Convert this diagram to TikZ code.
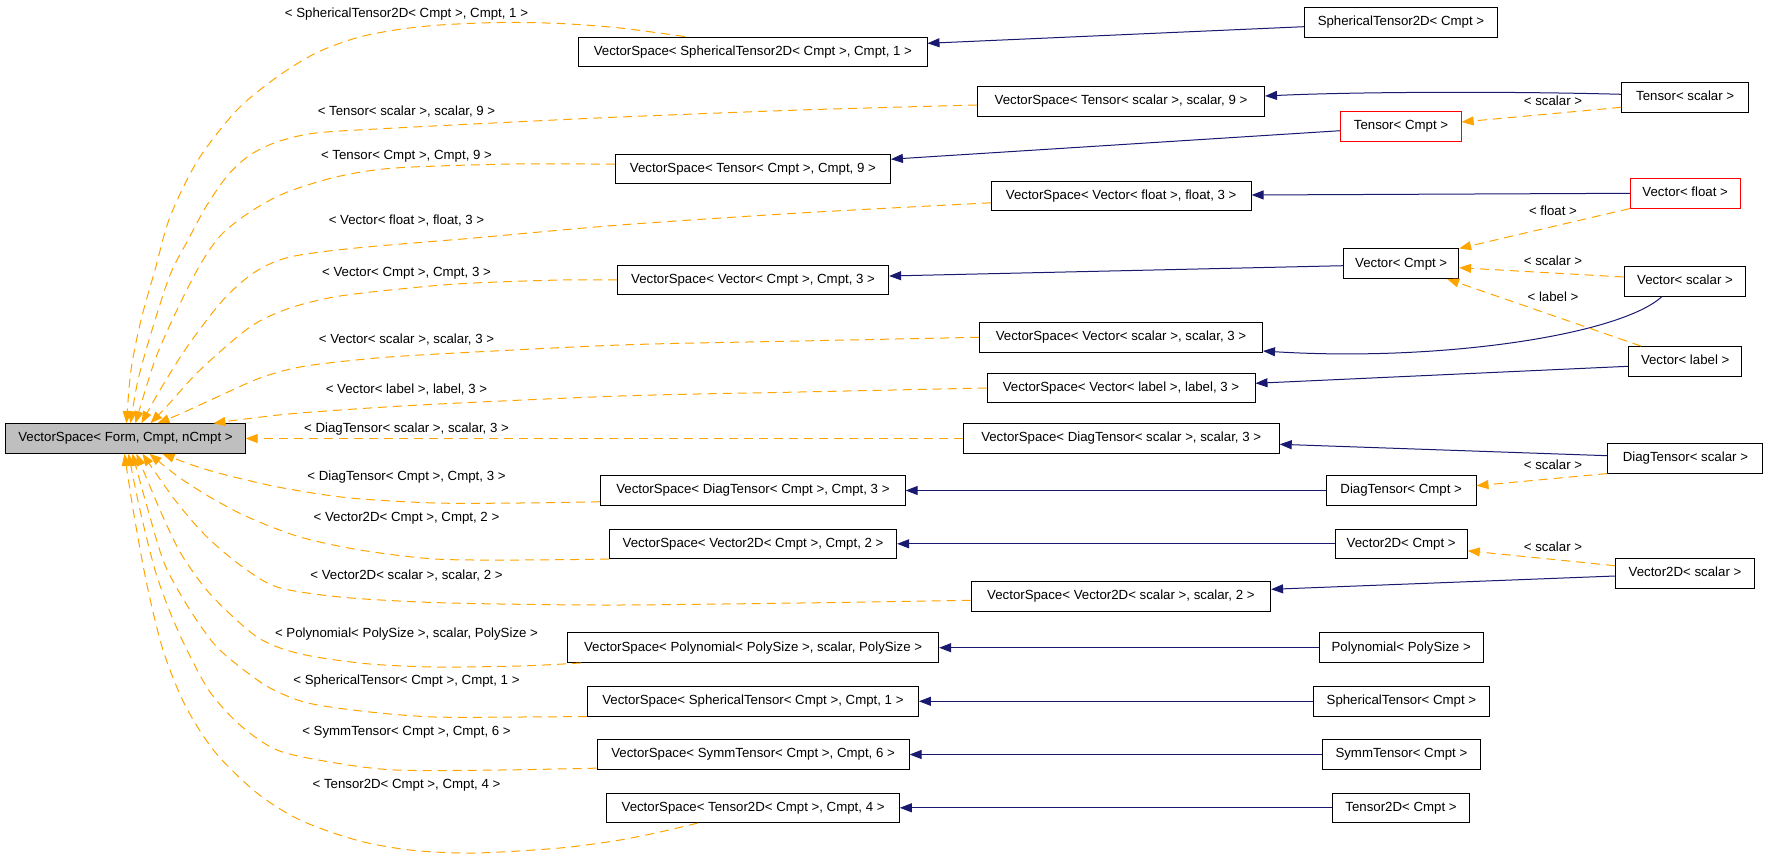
\documentclass[tikz,border=0pt]{standalone}
\usepackage{fontspec}
\setmainfont{Liberation Sans}
\usetikzlibrary{arrows.meta,calc}
\definecolor{edgeorange}{HTML}{FFA500}
\definecolor{edgeblue}{HTML}{191970}
\definecolor{rootgray}{HTML}{BFBFBF}
\begin{document}
\begin{tikzpicture}[x=1bp,y=-1bp,
  font=\fontsize{13.3}{16}\selectfont,
  box/.style={draw=black, line width=1bp, inner sep=0pt, minimum height=29.5bp, text height=9.6bp, text depth=2.8bp},
  redbox/.style={box, draw=red},
  dep/.style={draw=edgeorange, line width=1bp, dash pattern=on 9bp off 6bp, -{Triangle[length=12bp,width=9bp]}},
  inh/.style={draw=edgeblue, line width=1bp, -{Triangle[length=12bp,width=9bp]}},
  elab/.style={inner sep=0pt, text height=9.6bp, text depth=2.8bp}
]
\useasboundingbox (0,0) rectangle (1768,858);

% root
\node[box, fill=rootgray, minimum width=239.3bp] (root) at (125.5,438.5) {VectorSpace< Form, Cmpt, nCmpt >};

% VectorSpace instances
\node[box, minimum width=348.2bp] (vsST2D) at (752.9,51.8) {VectorSpace< SphericalTensor2D< Cmpt >, Cmpt, 1 >};
\node[box, minimum width=287bp] (vsTs) at (1121,101.3) {VectorSpace< Tensor< scalar >, scalar, 9 >};
\node[box, minimum width=275bp] (vsTc) at (752.9,169.2) {VectorSpace< Tensor< Cmpt >, Cmpt, 9 >};
\node[box, minimum width=259.8bp] (vsVf) at (1121.2,195.8) {VectorSpace< Vector< float >, float, 3 >};
\node[box, minimum width=271bp] (vsVc) at (753.1,280) {VectorSpace< Vector< Cmpt >, Cmpt, 3 >};
\node[box, minimum width=283bp] (vsVs) at (1121,337.3) {VectorSpace< Vector< scalar >, scalar, 3 >};
\node[box, minimum width=268bp] (vsVl) at (1121,388) {VectorSpace< Vector< label >, label, 3 >};
\node[box, minimum width=316bp] (vsDs) at (1121.2,438.5) {VectorSpace< DiagTensor< scalar >, scalar, 3 >};
\node[box, minimum width=304.5bp] (vsDc) at (752.9,490.5) {VectorSpace< DiagTensor< Cmpt >, Cmpt, 3 >};
\node[box, minimum width=287bp] (vsV2c) at (753.1,543.8) {VectorSpace< Vector2D< Cmpt >, Cmpt, 2 >};
\node[box, minimum width=299.4bp] (vsV2s) at (1120.9,596.3) {VectorSpace< Vector2D< scalar >, scalar, 2 >};
\node[box, minimum width=371bp] (vsP) at (753.1,647.7) {VectorSpace< Polynomial< PolySize >, scalar, PolySize >};
\node[box, minimum width=331bp] (vsSc) at (752.9,701.3) {VectorSpace< SphericalTensor< Cmpt >, Cmpt, 1 >};
\node[box, minimum width=312bp] (vsSy) at (753.1,754.5) {VectorSpace< SymmTensor< Cmpt >, Cmpt, 6 >};
\node[box, minimum width=292.4bp] (vsT2) at (753.1,807.8) {VectorSpace< Tensor2D< Cmpt >, Cmpt, 4 >};

% right-hand classes
\node[box, minimum width=193.5bp] (ST2D) at (1401,22.3) {SphericalTensor2D< Cmpt >};
\node[box, minimum width=127bp] (Ts) at (1685.2,97.3) {Tensor< scalar >};
\node[redbox, minimum width=120.3bp] (Tc) at (1401,126.5) {Tensor< Cmpt >};
\node[redbox, minimum width=109.8bp] (Vf) at (1685.2,193.3) {Vector< float >};
\node[box, minimum width=114.8bp] (Vc) at (1401.2,263.7) {Vector< Cmpt >};
\node[box, minimum width=121.7bp] (Vs) at (1685,281.3) {Vector< scalar >};
\node[box, minimum width=113.4bp] (Vl) at (1685.2,361.3) {Vector< label >};
\node[box, minimum width=155bp] (Ds) at (1685.4,458.3) {DiagTensor< scalar >};
\node[box, minimum width=149.6bp] (Dc) at (1401.2,490.5) {DiagTensor< Cmpt >};
\node[box, minimum width=132.2bp] (V2c) at (1401.2,543.8) {Vector2D< Cmpt >};
\node[box, minimum width=139bp] (V2s) at (1685,573.3) {Vector2D< scalar >};
\node[box, minimum width=164bp] (Po) at (1401.2,647.7) {Polynomial< PolySize >};
\node[box, minimum width=176.8bp] (Sc) at (1401.4,701.3) {SphericalTensor< Cmpt >};
\node[box, minimum width=158bp] (Sy) at (1401.4,754.5) {SymmTensor< Cmpt >};
\node[box, minimum width=137.7bp] (T2) at (1401,807.8) {Tensor2D< Cmpt >};

% inheritance edges (blue)
\draw[inh] ($(ST2D.west)+(0,4.4)$) -- ($(vsST2D.east)+(0,-8.5)$);
\draw[inh] ($(Ts.west)+(0,-3)$) .. controls (1500,91) and (1350,92) .. ($(vsTs.east)+(0,-5.3)$);
\draw[inh] ($(Tc.west)+(0,4.2)$) -- ($(vsTc.east)+(0,-10)$);
\draw[inh] (Vf.west) -- ($(vsVf.east)+(0,-0.8)$);
\draw[inh] ($(Vc.west)+(0,2)$) -- ($(vsVc.east)+(0,-4)$);
\draw[inh] ($(Vs.south)+(-23,0)$) .. controls (1620,335) and (1440,362) .. ($(vsVs.east)+(0,13.7)$);
\draw[inh] ($(Vl.west)+(0,5)$) -- ($(vsVl.east)+(0,-4.7)$);
\draw[inh] ($(Ds.west)+(0,-2.6)$) -- ($(vsDs.east)+(0,5.8)$);
\draw[inh] (Dc.west) -- (vsDc.east);
\draw[inh] (V2c.west) -- (vsV2c.east);
\draw[inh] ($(V2s.west)+(0,2.7)$) -- ($(vsV2s.east)+(0,-7)$);
\draw[inh] (Po.west) -- (vsP.east);
\draw[inh] (Sc.west) -- (vsSc.east);
\draw[inh] (Sy.west) -- (vsSy.east);
\draw[inh] (T2.west) -- (vsT2.east);

% template instantiation edges on the right (orange)
\draw[dep] ($(Ts.west)+(0,10)$) -- ($(Tc.east)+(0,-4.5)$);
\draw[dep] (Vf.south west) -- (Vc.north east);
\draw[dep] ($(Vs.west)+(0,-4.3)$) -- ($(Vc.east)+(0,4)$);
\draw[dep] ($(Vl.north west)+(13,0)$) -- ($(Vc.south east)+(-12,0)$);
\draw[dep] (Ds.south west) -- ($(Dc.east)+(0,-4.8)$);
\draw[dep] ($(V2s.west)+(0,-7.6)$) -- ($(V2c.east)+(0,7)$);

\node[elab] (lr1) at (1553,102) {< scalar >};
\node[elab] (lr2) at (1553,212) {< float >};
\node[elab] (lr3) at (1553,262) {< scalar >};
\node[elab] (lr4) at (1553,298) {< label >};
\node[elab] (lr5) at (1553,466) {< scalar >};
\node[elab] (lr6) at (1553,548) {< scalar >};

% endpoints on the root
\coordinate (tA) at ($(root.north west)+(121.1,0)$);
\coordinate (tB) at ($(root.north west)+(125.1,0)$);
\coordinate (tC) at ($(root.north west)+(130.1,0)$);
\coordinate (tD) at ($(root.north west)+(136.1,0)$);
\coordinate (tE) at ($(root.north west)+(145.1,0)$);
\coordinate (tF) at ($(root.north west)+(152.1,0)$);
\coordinate (tG) at ($(root.north west)+(208.1,0)$);
\coordinate (bA) at ($(root.south west)+(119.1,0)$);
\coordinate (bB) at ($(root.south west)+(123.1,0)$);
\coordinate (bC) at ($(root.south west)+(127.1,0)$);
\coordinate (bD) at ($(root.south west)+(131.1,0)$);
\coordinate (bE) at ($(root.south west)+(137.1,0)$);
\coordinate (bF) at ($(root.south west)+(144.1,0)$);
\coordinate (bG) at ($(root.south west)+(157.1,0)$);

% start points on the instances
\coordinate (sST2D) at ($(vsST2D.north west)+(106.5,0)$);
\coordinate (sTs) at ($(vsTs.west)+(0,3.7)$);
\coordinate (sTc) at ($(vsTc.west)+(0,-5)$);
\coordinate (sVf) at ($(vsVf.west)+(0,7)$);
\coordinate (sVc) at (vsVc.west);
\coordinate (sVs) at (vsVs.west);
\coordinate (sVl) at (vsVl.west);
\coordinate (sDc) at ($(vsDc.west)+(0,11.2)$);
\coordinate (sV2c) at (vsV2c.south west);
\coordinate (sV2s) at ($(vsV2s.west)+(0,4)$);
\coordinate (sP) at ($(vsP.south west)+(14,0)$);
\coordinate (sSc) at (vsSc.south west);
\coordinate (sSy) at ($(vsSy.south west)+(0,-1.6)$);
\coordinate (sT2) at ($(vsT2.south west)+(91.5,0)$);

% template instantiation edges to the root (orange)
\draw[dep] plot[smooth] coordinates {(sST2D) (620,28) (560,23.5) (500,22.5) (440,25) (395,30) (356,38) (316,53) (277,77) (237,110) (198,160) (170,217) (155,270) (141,320) (131,370) (tA)};
\draw[dep] plot[smooth] coordinates {(sTs) (800,110) (620,117) (514,122) (395,128) (316,133) (277,142) (250,155) (228,175) (207,205) (188,240) (170,275) (152,330) (138,380) (tB)};
\draw[dep] plot[smooth] coordinates {(sTc) (514,164) (395,168) (336,177) (285,193) (250,212) (221,235) (200,265) (177,310) (155,360) (tC)};
\draw[dep] plot[smooth] coordinates {(sVf) (800,213) (620,225) (474,238) (356,248) (290,257) (255,272) (223,300) (187,347) (160,390) (tD)};
\draw[dep] plot[smooth] coordinates {(sVc) (560,280) (474,283) (420,287) (340,296) (290,308) (250,327) (200,370) (168,405) (tE)};
\draw[dep] plot[smooth] coordinates {(sVs) (800,341) (620,345) (420,355) (356,360) (300,367) (260,378) (215,398) (180,414) (tF)};
\draw[dep] plot[smooth] coordinates {(sVl) (800,392) (620,396) (420,405) (300,413) (245,419) (tG)};
\draw[dep] (vsDs.west) -- (root.east);
\draw[dep] plot[smooth] coordinates {(sDc) (520,503) (435,503) (350,498) (283,488) (230,476) (195,466) (bG)};
\draw[dep] plot[smooth] coordinates {(sV2c) (520,560) (435,559) (360,550) (300,537) (250,518) (215,500) (180,478) (bF)};
\draw[dep] plot[smooth] coordinates {(sV2s) (800,603) (620,605) (500,604) (420,602) (340,597) (277,587) (240,565) (205,535) (175,500) (bE)};
\draw[dep] plot[smooth] coordinates {(sP) (520,666) (435,667) (370,664) (316,657) (283,649) (257,637) (230,614) (205,588) (180,552) (160,510) (bD)};
\draw[dep] plot[smooth] coordinates {(sSc) (520,717) (435,717) (370,712) (308,703) (270,688) (240,667) (215,645) (190,610) (165,565) (148,510) (bC)};
\draw[dep] plot[smooth] coordinates {(sSy) (500,770) (395,770) (330,762) (277,750) (240,725) (210,692) (187,650) (170,612) (155,570) (140,510) (bB)};
\draw[dep] plot[smooth] coordinates {(sT2) (660,832) (620,840) (560,848) (474,853) (410,850) (356,840) (300,820) (257,793) (215,752) (185,705) (163,650) (147,585) (134,515) (bA)};

% labels of the root edges
\node[elab] (l1) at (406.5,14) {< SphericalTensor2D< Cmpt >, Cmpt, 1 >};
\node[elab] (l2) at (406.5,112) {< Tensor< scalar >, scalar, 9 >};
\node[elab] (l3) at (406.5,156) {< Tensor< Cmpt >, Cmpt, 9 >};
\node[elab] (l4) at (406.5,221) {< Vector< float >, float, 3 >};
\node[elab] (l5) at (406.5,273) {< Vector< Cmpt >, Cmpt, 3 >};
\node[elab] (l6) at (406.5,340) {< Vector< scalar >, scalar, 3 >};
\node[elab] (l7) at (406.5,390) {< Vector< label >, label, 3 >};
\node[elab] (l8) at (406.5,429) {< DiagTensor< scalar >, scalar, 3 >};
\node[elab] (l9) at (406.5,477) {< DiagTensor< Cmpt >, Cmpt, 3 >};
\node[elab] (l10) at (406.5,518) {< Vector2D< Cmpt >, Cmpt, 2 >};
\node[elab] (l11) at (406.5,576) {< Vector2D< scalar >, scalar, 2 >};
\node[elab] (l12) at (406.5,634) {< Polynomial< PolySize >, scalar, PolySize >};
\node[elab] (l13) at (406.5,681) {< SphericalTensor< Cmpt >, Cmpt, 1 >};
\node[elab] (l14) at (406.5,732) {< SymmTensor< Cmpt >, Cmpt, 6 >};
\node[elab] (l15) at (406.5,785) {< Tensor2D< Cmpt >, Cmpt, 4 >};
\end{tikzpicture}
\end{document}
